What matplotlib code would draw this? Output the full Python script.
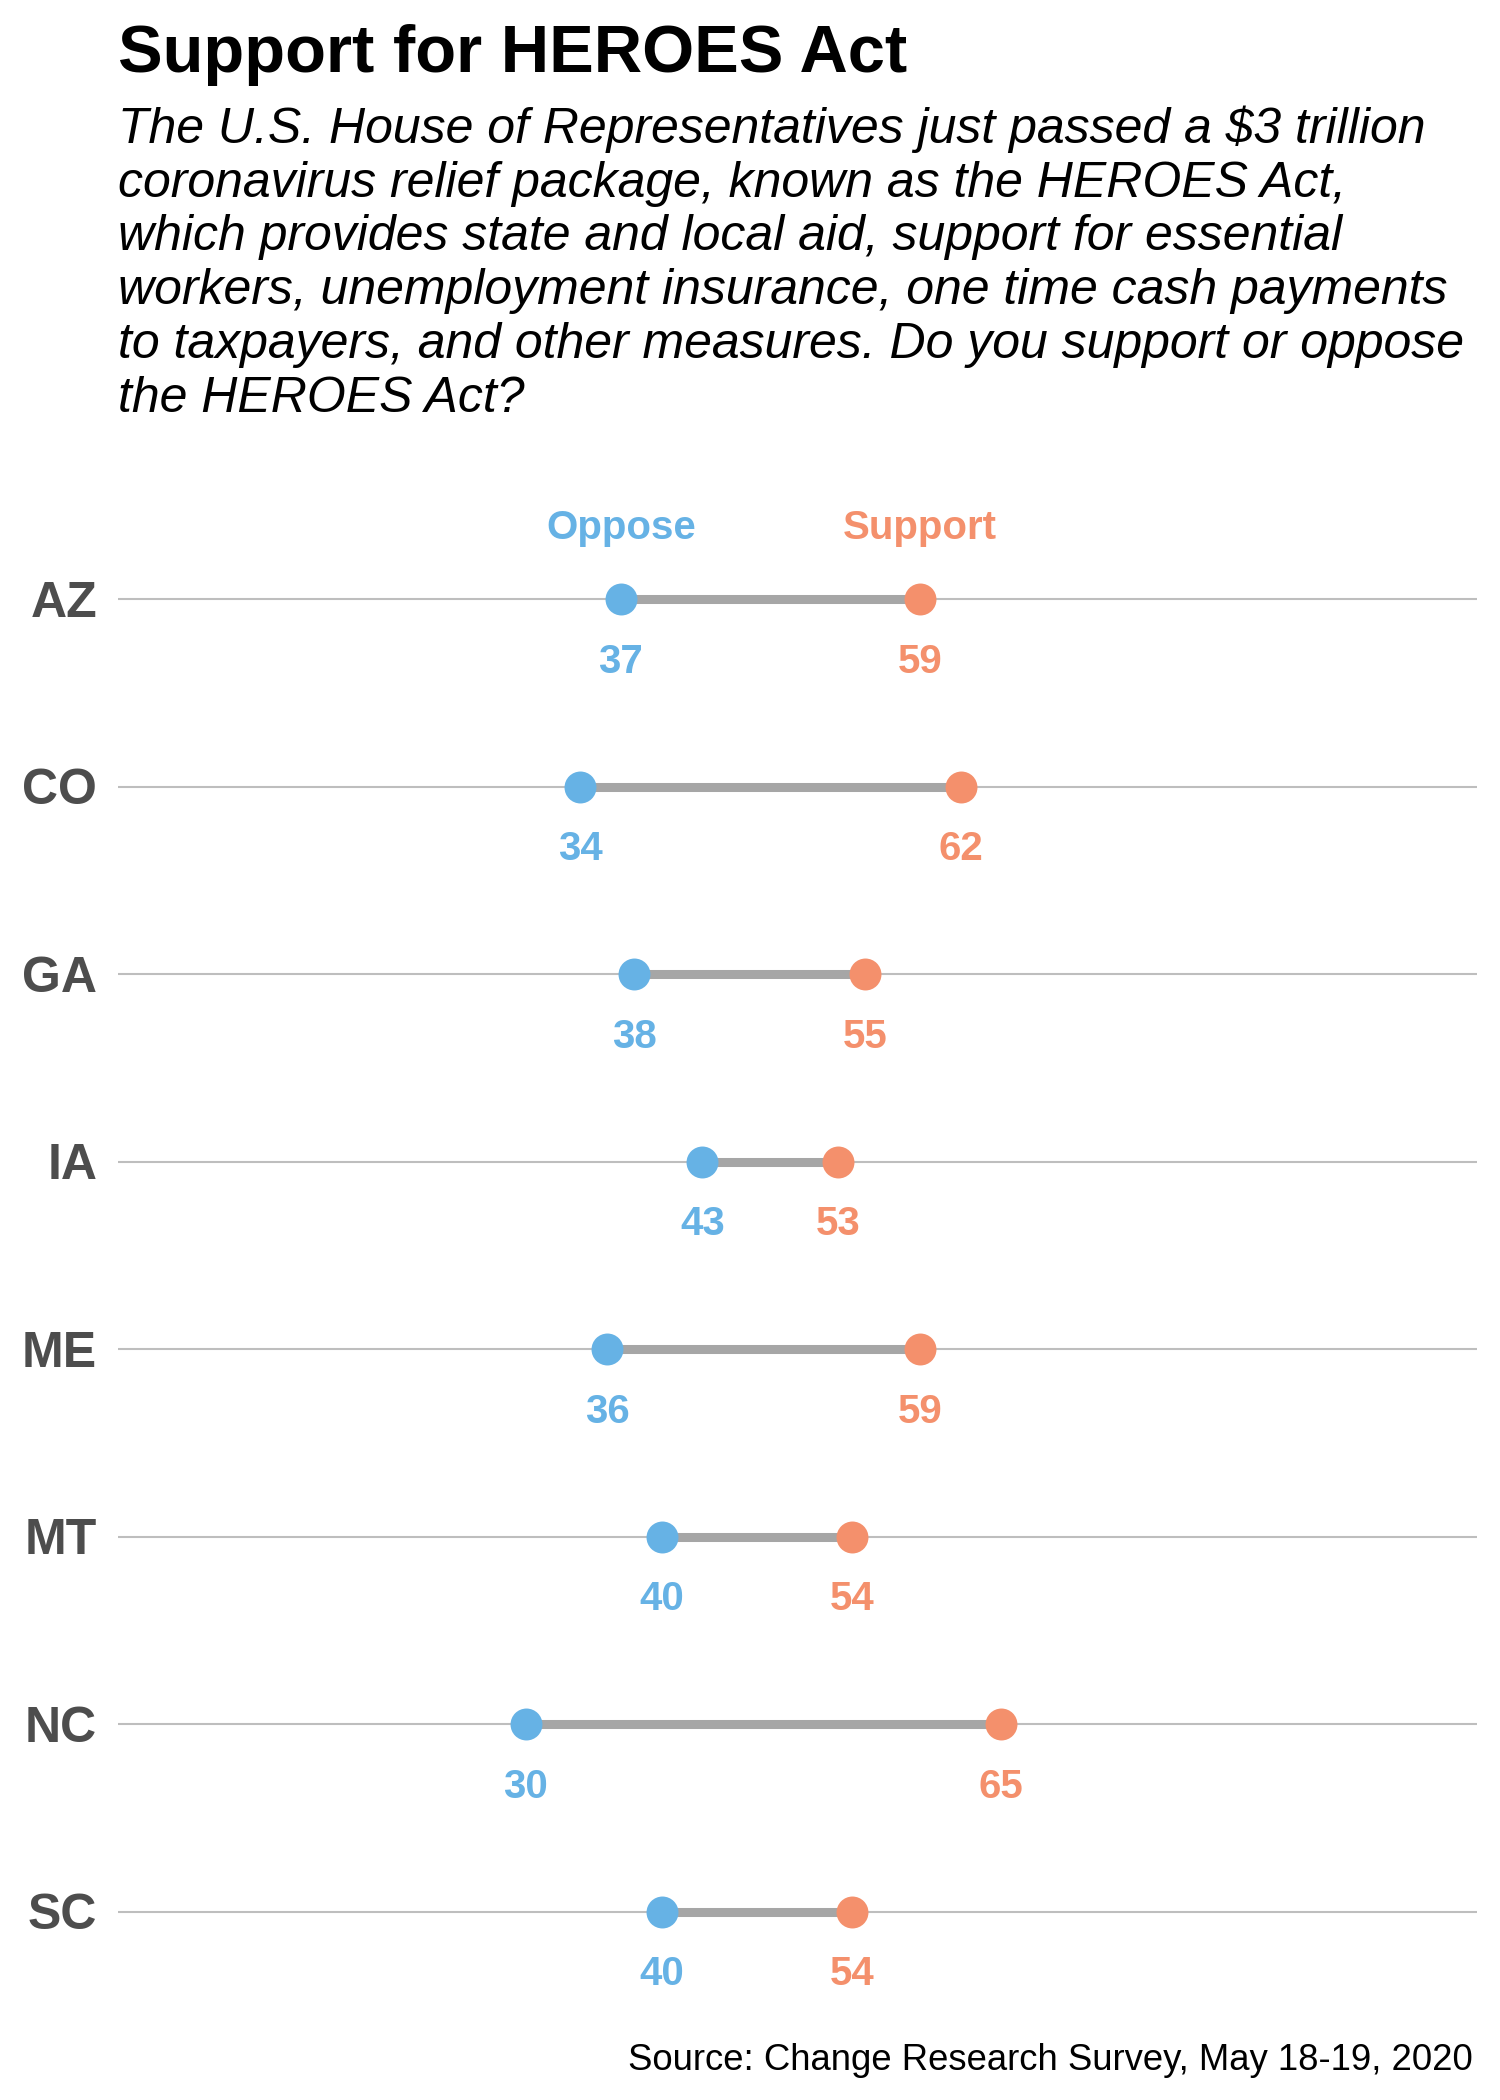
import matplotlib.pyplot as plt

# --- data ---
states = ['AZ', 'CO', 'GA', 'IA', 'ME', 'MT', 'NC', 'SC']
oppose = [37, 34, 38, 43, 36, 40, 30, 40]
support = [59, 62, 55, 53, 59, 54, 65, 54]

title = 'Support for HEROES Act'
subtitle_lines = [
    'The U.S. House of Representatives just passed a \\$3 trillion',
    'coronavirus relief package, known as the HEROES Act,',
    'which provides state and local aid, support for essential',
    'workers, unemployment insurance, one time cash payments',
    'to taxpayers, and other measures. Do you support or oppose',
    'the HEROES Act?',
]
source = 'Source: Change Research Survey, May 18-19, 2020'

blue = '#66B2E5'
orange = '#F4906C'
FONT = 'Liberation Sans'
plt.rcParams['font.family'] = [FONT, 'DejaVu Sans']

W, H = 1500, 2100
fig = plt.figure(figsize=(15, 21), dpi=100)

# axes spans 0..100 horizontally, one row per state
ax = fig.add_axes([118 / W, (H - 2005.25) / H, 1359 / W, 1500 / H])
ax.set_xlim(0, 100)
ax.set_ylim(len(states) - 0.5, -0.5)
ax.axis('off')

rows = list(range(len(states)))
ax.hlines(rows, 0, 100, color='#BEBEBE', lw=1.5, zorder=1)
ax.hlines(rows, oppose, support, color='#A6A6A6', lw=6.5, zorder=2)
ax.plot(oppose, rows, 'o', color=blue, ms=23, mec='none', zorder=3, clip_on=False)
ax.plot(support, rows, 'o', color=orange, ms=23, mec='none', zorder=3, clip_on=False)

for i, st in enumerate(states):
    ax.annotate(st, (0, i), xytext=(-15, -12.7), textcoords='offset points',
                ha='right', va='baseline', fontsize=36, fontweight='bold', color='#4D4D4D')
    ax.annotate(str(oppose[i]), (oppose[i], i), xytext=(0, -53), textcoords='offset points',
                ha='center', va='baseline', fontsize=29, fontweight='bold', color=blue)
    ax.annotate(str(support[i]), (support[i], i), xytext=(0, -53), textcoords='offset points',
                ha='center', va='baseline', fontsize=29, fontweight='bold', color=orange)

# column headers above the first row
ax.annotate('Oppose', (oppose[0], 0), xytext=(0, 43), textcoords='offset points',
            ha='center', va='baseline', fontsize=29, fontweight='bold', color=blue)
ax.annotate('Support', (support[0], 0), xytext=(0, 43), textcoords='offset points',
            ha='center', va='baseline', fontsize=29, fontweight='bold', color=orange)

# titles
fig.text(118 / W, 1 - 72 / H, title, fontsize=48.2, fontweight='bold', va='baseline', ha='left')
for k, line in enumerate(subtitle_lines):
    fig.text(118 / W, 1 - (143 + 53.7 * k) / H, line, fontsize=36, style='italic',
             va='baseline', ha='left')
fig.text(1473 / W, 1 - 2070 / H, source, fontsize=26.3, va='baseline', ha='right')

fig.savefig('out.png', dpi=100, facecolor='white')
